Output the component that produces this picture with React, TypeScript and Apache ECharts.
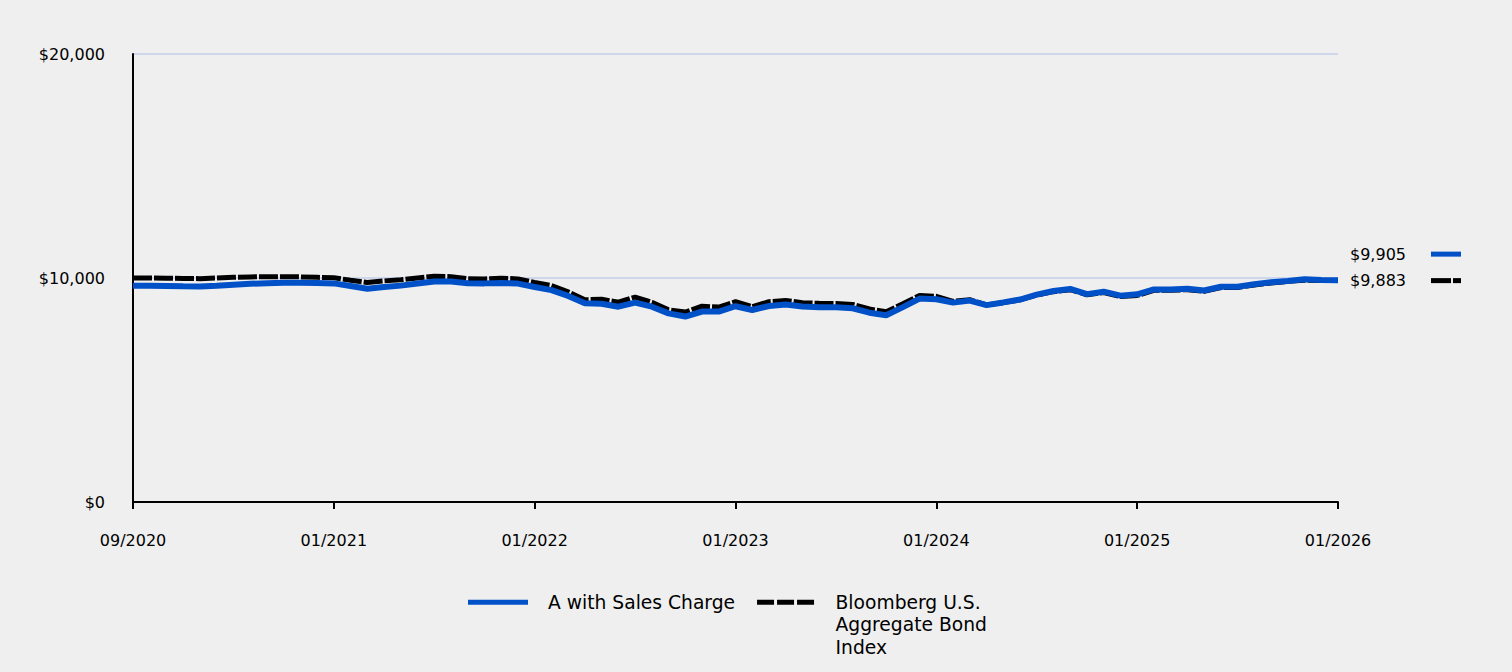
import React, { useEffect, useRef } from "react";
import * as echarts from "echarts";

const FONT = "'DejaVu Sans', sans-serif";
const BLUE = "#0050c8";
const BLACK = "#000000";

const blueName = "A with Sales Charge";
const blackName = "Bloomberg U.S. Aggregate Bond Index";

const xTickLabels = ["09/2020", "01/2021", "01/2022", "01/2023", "01/2024", "01/2025", "01/2026"];

const blueValues = [
  9650, 9655, 9645, 9630, 9620, 9650, 9700, 9740, 9770, 9790, 9790, 9775,
  9760, 9640, 9520, 9600, 9660, 9750, 9840, 9840, 9770, 9760, 9780, 9750,
  9600, 9460, 9200, 8870, 8850, 8720, 8900, 8720, 8420, 8280, 8500, 8500,
  8740, 8570, 8750, 8820, 8730, 8690, 8690, 8650, 8450, 8340, 8700, 9080,
  9050, 8900, 8990, 8790, 8910, 9040, 9260, 9420, 9510, 9280, 9390, 9210,
  9270, 9490, 9490, 9520, 9440, 9610, 9610, 9720, 9810, 9870, 9940, 9910,
  9905,
];

const blackValues = [
  10000, 10000, 9990, 9980, 9970, 10000, 10030, 10050, 10055, 10060, 10050, 10030,
  10010, 9900, 9800, 9870, 9920, 10000, 10080, 10060, 9970, 9960, 9990, 9960,
  9800, 9660, 9380, 9030, 9050, 8920, 9150, 8920, 8580, 8480, 8740, 8700,
  8940, 8720, 8940, 9000, 8900, 8870, 8860, 8820, 8620, 8490, 8850, 9220,
  9180, 8960, 9030, 8800, 8900, 9030, 9240, 9390, 9480, 9250, 9350, 9170,
  9220, 9450, 9450, 9480, 9410, 9570, 9580, 9690, 9780, 9850, 9900, 9890,
  9883,
];

const categories = blueValues.map((_, i) => String(i));
const LABEL_STEP = (categories.length - 1) / (xTickLabels.length - 1);

const money = (v: number) => "$" + Math.round(v).toLocaleString("en-US");

export default function App() {
  const ref = useRef<HTMLDivElement>(null);
  useEffect(() => {
    if (!ref.current) return;
    const chart = echarts.init(ref.current, null, { renderer: "svg" });
    chart.setOption({
      animation: false,
      backgroundColor: "#efefef",
      textStyle: { fontFamily: FONT },
      grid: { left: 133, right: 174, top: 54, bottom: 170, containLabel: false },
      legend: {
        left: 463,
        top: 541,
        orient: "horizontal",
        itemWidth: 60,
        itemHeight: 5,
        itemGap: 22,
        itemStyle: { borderWidth: 0 },
        data: [
          { name: blueName, icon: "rect" },
          { name: blackName, icon: "path://M0,0H17V5H0ZM20,0H37V5H20ZM40,0H57V5H40Z" },
        ],
        formatter: (name: string) =>
          name === blackName ? "\n\nBloomberg U.S.\nAggregate Bond\nIndex" : name,
        textStyle: {
          fontFamily: FONT,
          fontSize: 18.7,
          lineHeight: 22.5,
          color: "#000",
          padding: [0, 0, 0, 15],
        },
      },
      xAxis: {
        type: "category",
        data: categories,
        boundaryGap: false,
        axisLine: { lineStyle: { color: "#000", width: 2 } },
        axisTick: { show: true, interval: LABEL_STEP - 1, length: 7, lineStyle: { color: "#000", width: 2 } },
        axisLabel: {
          interval: LABEL_STEP - 1,
          margin: 30,
          fontSize: 16,
          fontFamily: FONT,
          color: "#000",
          formatter: (_v: string, idx: number) => xTickLabels[Math.round(idx / LABEL_STEP)] ?? "",
        },
        splitLine: { show: false },
      },
      yAxis: {
        type: "value",
        min: 0,
        max: 20000,
        interval: 10000,
        axisLine: { show: true, lineStyle: { color: "#000", width: 2 } },
        axisTick: { show: false },
        axisLabel: {
          margin: 28,
          fontSize: 16,
          fontFamily: FONT,
          color: "#000",
          formatter: (v: number) => money(v),
        },
        splitLine: { show: true, lineStyle: { color: "#c2d1ec", width: 1.5 } },
      },
      series: [
        {
          name: blackName,
          type: "line",
          data: blackValues,
          symbol: "none",
          color: BLACK,
          lineStyle: { color: BLACK, width: 5, type: [19, 2] },
          z: 2,
          endLabel: {
            show: true,
            distance: 12,
            offset: [0, 0],
            formatter: () => `{t|${money(blackValues[blackValues.length - 1])}}{g|}{m|}{s|}{n|}`,
            rich: {
              t: { fontSize: 16, fontFamily: FONT, color: "#000" },
              g: { width: 25 },
              m: { width: 20, height: 5, backgroundColor: BLACK },
              s: { width: 2 },
              n: { width: 8, height: 5, backgroundColor: BLACK },
            },
          },
        },
        {
          name: blueName,
          type: "line",
          data: blueValues,
          symbol: "none",
          color: BLUE,
          lineStyle: { color: BLUE, width: 6 },
          z: 3,
          endLabel: {
            show: true,
            distance: 12,
            offset: [0, -26],
            formatter: () => `{t|${money(blueValues[blueValues.length - 1])}}{g|}{m|}`,
            rich: {
              t: { fontSize: 16, fontFamily: FONT, color: "#000" },
              g: { width: 25 },
              m: { width: 30, height: 5, backgroundColor: BLUE },
            },
          },
        },
      ],
    });
    return () => chart.dispose();
  }, []);
  return (
    <div
      ref={ref}
      style={{ position: "fixed", left: 0, top: 0, width: "1512px", height: "672px" }}
    />
  );
}
